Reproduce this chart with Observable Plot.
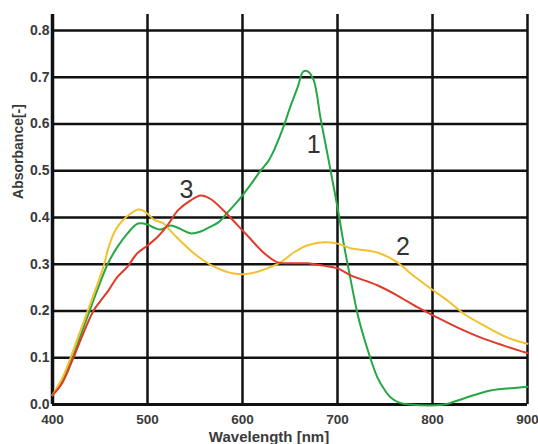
<!DOCTYPE html>
<html><head><meta charset="utf-8">
<script src="https://cdn.jsdelivr.net/npm/d3@7"></script>
<script src="https://cdn.jsdelivr.net/npm/@observablehq/plot@0.6"></script>
<style>html,body{margin:0;padding:0;background:#fff}svg{display:block}</style>
</head><body><div id="chart"></div>
<script>
// Curve 1 (green)
const greenNm  = [400,410,421,430,439,447,458,468,479,490,500,507,514,524,535,545,556,566,575,584,593,601,612,619,627,633,643,650,658,664,669,675,682,689,696,701,706,714,722,731,742,750,756,765,776,812,833,861,889,900];
const greenAbs = [0.02,0.05,0.10,0.15,0.20,0.244,0.30,0.336,0.366,0.387,0.385,0.378,0.374,0.383,0.375,0.366,0.37,0.38,0.39,0.41,0.43,0.45,0.48,0.50,0.52,0.543,0.593,0.635,0.678,0.712,0.712,0.693,0.614,0.54,0.465,0.41,0.35,0.265,0.186,0.122,0.058,0.03,0.015,0.004,0,0,0.013,0.03,0.036,0.038];
// Curve 2 (yellow)
const yellowNm  = [400,410,419,428,437,446,454,459,466,474,482,490,495,500,507,517,524,531,545,559,574,591,608,626,640,654,668,685,700,714,742,763,777,798,816,833,854,879,900];
const yellowAbs = [0.02,0.055,0.10,0.15,0.20,0.25,0.297,0.336,0.372,0.394,0.408,0.417,0.415,0.408,0.395,0.387,0.372,0.357,0.33,0.308,0.291,0.28,0.28,0.291,0.304,0.325,0.34,0.347,0.344,0.334,0.325,0.304,0.28,0.248,0.222,0.194,0.169,0.143,0.13];
// Curve 3 (red)
const redNm  = [400,410,422,432,443,450,459,468,479,489,500,510,521,532,545,556,566,580,595,608,622,637,651,668,685,700,714,742,763,784,801,826,851,875,900];
const redAbs = [0.02,0.045,0.10,0.15,0.20,0.22,0.244,0.272,0.295,0.323,0.34,0.357,0.383,0.415,0.436,0.447,0.44,0.415,0.383,0.355,0.325,0.304,0.302,0.302,0.297,0.291,0.276,0.255,0.233,0.208,0.19,0.165,0.143,0.126,0.11];

const seriesNames  = ["1", "2", "3"];
const seriesColors = ["#25a844", "#f2c12e", "#e03a28"];
const labelNm  = [675, 769, 541];
const labelAbs = [0.554, 0.336, 0.458];

const xTicks = [400, 500, 600, 700, 800, 900];
const yTicks = [0, 0.1, 0.2, 0.3, 0.4, 0.5, 0.6, 0.7, 0.8];
const yTickLabels = ["0.0","0.1","0.2","0.3","0.4","0.5","0.6","0.7","0.8"];
const xTitle = "Wavelength [nm]";
const yTitle = "Absorbance[-]";

const rows = [];
[[greenNm, greenAbs], [yellowNm, yellowAbs], [redNm, redAbs]].forEach(([xs, ys], k) => {
  xs.forEach((x, i) => rows.push({series: seriesNames[k], nm: x, abs: ys[i]}));
});
const labels = seriesNames.map((s, i) => ({text: s, nm: labelNm[i], abs: labelAbs[i]}));

const font = "'Liberation Sans', Arial, sans-serif";
const chart = Plot.plot({
  width: 538, height: 444,
  marginLeft: 52, marginRight: 11, marginTop: 14, marginBottom: 40,
  x: {domain: [400, 900]},
  y: {domain: [0, 0.834]},
  color: {domain: seriesNames, range: seriesColors},
  style: {fontFamily: font, background: "#fff"},
  marks: [
    Plot.ruleY(yTicks, {y: d => d, stroke: "#111", strokeWidth: d => d === 0 ? 3 : 2.5}),
    Plot.ruleX(xTicks, {x: d => d, stroke: "#111", strokeWidth: d => d === 400 ? 3.5 : 2.5}),
    Plot.line(rows, {x: "nm", y: "abs", z: "series", stroke: "series", strokeWidth: 2, curve: "catmull-rom"}),
    Plot.text(labels, {x: "nm", y: "abs", text: "text", fontSize: 25, fill: "#333", fontFamily: font}),
    Plot.axisX(xTicks, {tickSize: 0, tickPadding: 10, fontSize: 13.5, fontWeight: "bold", fill: "#3a3a3a", label: null}),
    Plot.axisY(yTicks, {tickSize: 0, tickPadding: 3, fontSize: 14, fontWeight: "bold", fill: "#3a3a3a", label: null,
      tickFormat: (d) => yTickLabels[yTicks.indexOf(d)]}),
    Plot.text([xTitle], {frameAnchor: "bottom", textAnchor: "middle", lineAnchor: "middle", dx: -21, dy: 33, fontSize: 15, fontWeight: "bold", fill: "#3a3a3a"}),
    Plot.text([yTitle], {frameAnchor: "left", textAnchor: "middle", lineAnchor: "middle", rotate: -90, dx: -34, dy: -58, fontSize: 14, fontWeight: "bold", fill: "#3a3a3a"})
  ]
});
document.getElementById("chart").appendChild(chart);
</script>
</body></html>
